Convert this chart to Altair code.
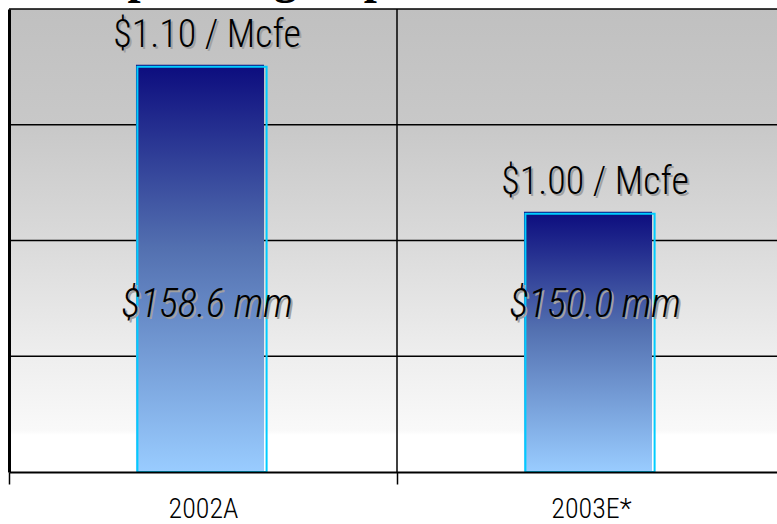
import altair as alt
import numpy as np
import pandas as pd

# Unit lease operating cost per period and the matching annotations
periods = ["2002A", "2003E*"]
unit_cost = [1.10, 1.00]  # $ per Mcfe
unit_labels = ["$1.10 / Mcfe", "$1.00 / Mcfe"]
total_labels = ["$158.6 mm", "$150.0 mm"]
title_text = ["Operating Expenses"]

# Value axis (hidden labels) and its gridlines
Y_MIN, Y_MAX = 0.823, 1.138
grid_values = list(np.linspace(Y_MIN, Y_MAX, 5)[1:])

FONT = ("Liberation Sans Narrow, Arial Narrow, Roboto Condensed, Noto Sans Condensed, "
        "DejaVu Sans Condensed, sans-serif")
W, H = 768, 463

df = pd.DataFrame({
    "period": periods,
    "cost": unit_cost,
    "unit_label": unit_labels,
    "total_label": total_labels,
})
grid_df = pd.DataFrame({"v": grid_values})
divider_df = pd.DataFrame({"period": periods[1:]})
title_df = pd.DataFrame({"t": title_text})

x_scale = alt.Scale(domain=periods, range=[0, 776], paddingInner=0, paddingOuter=0)
y_scale = alt.Scale(domain=[Y_MIN, Y_MAX], nice=False, zero=False)

x_axis = alt.Axis(
    title=None, labelAngle=0, labelFont=FONT, labelFontSize=28, labelFontWeight=300,
    labelColor="black", labelPadding=11, tickBand="extent", tickSize=12,
    tickColor="black", tickWidth=1.5, domainColor="black", domainWidth=2,
    grid=False, zindex=1,
)
y_axis = alt.Axis(
    title=None, labels=False, ticks=False, grid=False,
    domainColor="black", domainWidth=3, zindex=1,
)

x_enc = alt.X("period:N", scale=x_scale, sort=periods, axis=x_axis)
y_cost = alt.Y("cost:Q", scale=y_scale, axis=y_axis)
y_base = alt.datum(Y_MIN)

bg_gradient = alt.LinearGradient(
    gradient="linear", x1=0, x2=0, y1=0, y2=1,
    stops=[
        alt.GradientStop(color="#c0c0c0", offset=0),
        alt.GradientStop(color="#c8c8c8", offset=0.25),
        alt.GradientStop(color="#dadada", offset=0.5),
        alt.GradientStop(color="#eeeeee", offset=0.75),
        alt.GradientStop(color="#f9f9f9", offset=0.91),
        alt.GradientStop(color="#ffffff", offset=0.92),
        alt.GradientStop(color="#ffffff", offset=1),
    ],
)
bar_gradient = alt.LinearGradient(
    gradient="linear", x1=0, x2=0, y1=0, y2=1,
    stops=[
        alt.GradientStop(color="#0c0c7e", offset=0),
        alt.GradientStop(color="#5370b0", offset=0.45),
        alt.GradientStop(color="#99ccff", offset=1),
    ],
)

background = alt.Chart(title_df).mark_rect(fill=bg_gradient).encode(
    x=alt.value(0), x2=alt.value("width"), y=alt.value(0), y2=alt.value("height")
)

gridlines = alt.Chart(grid_df).mark_rule(color="black", strokeWidth=1.5).encode(
    y=alt.Y("v:Q", scale=y_scale, axis=y_axis), x=alt.value(0), x2=alt.value("width")
)

divider = alt.Chart(divider_df).mark_rule(color="black", strokeWidth=1.5).encode(
    x=alt.X("period:N", scale=x_scale, sort=periods, axis=x_axis, bandPosition=0),
    y=alt.value(0), y2=alt.value("height"),
)

bars = alt.Chart(df).mark_bar(
    fill=bar_gradient, width=alt.RelativeBandSize(0.33), xOffset=-3
).encode(x=x_enc, y=y_cost, y2=y_base)

outline = alt.Chart(df).mark_bar(
    fillOpacity=0, stroke="#00ccff", strokeWidth=2,
    width=alt.RelativeBandSize(0.333), xOffset=-1, yOffset=2,
).encode(x=x_enc, y=y_cost, y2=y_base)

def unit_text(color, dx, dy):
    return alt.Chart(df).mark_text(
        font=FONT, fontSize=38, fontWeight=300, color=color,
        baseline="alphabetic", dx=dx, dy=dy,
    ).encode(x=x_enc, y=y_cost, text="unit_label:N")

def total_text(color, dx, dy):
    return alt.Chart(df).mark_text(
        font=FONT, fontSize=40, fontWeight=300, fontStyle="italic", color=color,
        baseline="alphabetic", dx=dx, dy=dy,
    ).encode(x=x_enc, y=alt.value(308), text="total_label:N")

title = alt.Chart(title_df).mark_text(
    font="Liberation Serif", fontWeight="bold", fontSize=47, color="black",
    align="left", baseline="alphabetic",
).encode(x=alt.value(82), y=alt.value(-16), text="t:N")

chart = alt.layer(
    background, gridlines, divider, bars, outline,
    unit_text("#a0a0a0", 6, -16), unit_text("black", 4, -18),
    total_text("#a0a0a0", 6, 2), total_text("black", 4, 0),
    title,
).properties(
    width=W, height=H,
    autosize=alt.AutoSizeParams(type="none"),
    padding={"left": 9, "top": 9, "right": 0, "bottom": 52},
    background="white",
).configure_view(strokeWidth=0)

chart.save("out.html", embed_options={"renderer": "svg", "actions": False})
